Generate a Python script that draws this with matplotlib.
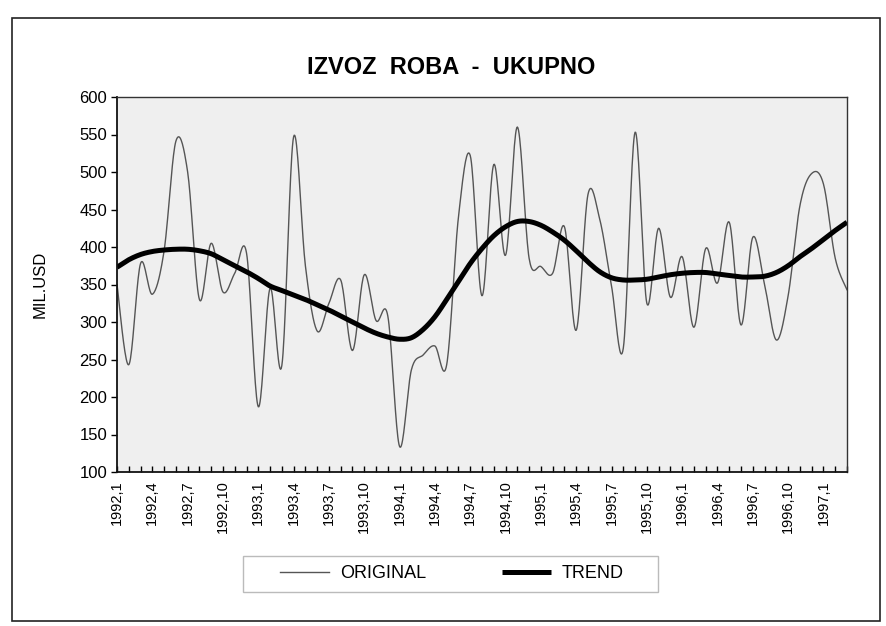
import numpy as np
import matplotlib
matplotlib.use("Agg")
import matplotlib.pyplot as plt
from matplotlib.patches import Rectangle

# ---- data -------------------------------------------------------------
years = [1992, 1993, 1994, 1995, 1996, 1997]
months = [f"{y},{m}" for y in years for m in range(1, 13)][:63]   # 1992,1 .. 1997,3

original = [350, 243, 378, 337, 395, 541, 500, 330, 405, 340,
            365, 392, 187, 345, 242, 547, 375, 288, 325, 356,
            262, 363, 302, 308, 134, 236, 256, 268, 243, 440,
            522, 335, 510, 389, 560, 385, 374, 365, 427, 289,
            470, 437, 348, 265, 553, 325, 425, 333, 387, 293,
            398, 352, 433, 296, 413, 350, 276, 335, 455, 498,
            484, 385, 343]

trend = [373, 383, 390, 394, 396, 397, 397, 395, 391, 383,
         375, 367, 358, 348, 342, 336, 330, 323, 316, 308,
         300, 292, 285, 280, 277, 279, 290, 307, 330, 354,
         378, 398, 415, 427, 434, 434, 429, 420, 409, 395,
         380, 367, 359, 356, 356, 357, 360, 363, 365, 366,
         366, 364, 362, 360, 360, 361, 366, 375, 387, 398,
         410, 422, 433]

title = "IZVOZ  ROBA  -  UKUPNO"
ylabel = "MIL.USD"
series_names = ["ORIGINAL", "TREND"]
yticks = [100, 150, 200, 250, 300, 350, 400, 450, 500, 550, 600]


def smooth(vals, n=20):
    """Excel-like smoothed line (Catmull-Rom Bezier) through the data."""
    y = np.asarray(vals, dtype=float)
    x = np.arange(len(y), dtype=float)
    xs, ys = [], []
    t = np.linspace(0, 1, n, endpoint=False)
    for i in range(len(y) - 1):
        i0 = max(i - 1, 0)
        i3 = min(i + 2, len(y) - 1)
        for arr, out in ((x, xs), (y, ys)):
            p0, p1, p2, p3 = arr[i0], arr[i], arr[i + 1], arr[i3]
            c1 = p1 + (p2 - p0) / 6.0
            c2 = p2 - (p3 - p1) / 6.0
            out.extend((1 - t) ** 3 * p1 + 3 * (1 - t) ** 2 * t * c1
                       + 3 * (1 - t) * t ** 2 * c2 + t ** 3 * p2)
    xs.append(x[-1]); ys.append(y[-1])
    return np.array(xs), np.array(ys)


plt.rcParams["font.family"] = ["Liberation Sans", "DejaVu Sans"]

fig = plt.figure(figsize=(8.86, 6.26), dpi=100)
fig.patch.set_facecolor("white")
ax = fig.add_axes([117 / 886, 1 - 472 / 626, 730 / 886, 375 / 626])
ax.set_facecolor("#efefef")

xo, yo = smooth(original)
xt, yt = smooth(trend)
ax.plot(xo, yo, color="#555555", lw=1.0, label=series_names[0])
ax.plot(xt, yt, color="black", lw=3.6, label=series_names[1],
        solid_capstyle="butt")

ax.set_xlim(0, len(months) - 1)
ax.set_ylim(100, 600)
ax.set_yticks(yticks)
ax.set_yticklabels([str(v) for v in yticks], fontsize=12)
ax.set_xticks(range(len(months)))
ax.set_xticklabels([m if i % 3 == 0 else "" for i, m in enumerate(months)],
                   rotation=90, fontsize=10.5)
ax.tick_params(axis="x", direction="in", length=4, width=1, pad=6)
ax.tick_params(axis="y", direction="out", length=4, width=1, pad=3)
for s in ax.spines.values():
    s.set_color("#333333")
    s.set_linewidth(1.0)
ax.spines["left"].set_linewidth(1.3)
ax.spines["left"].set_color("#111111")
ax.spines["bottom"].set_linewidth(1.3)
ax.spines["bottom"].set_color("#111111")

ax.set_ylabel(ylabel, fontsize=12)
ax.yaxis.set_label_coords((48 - 117) / 730, 0.5)
fig.text(451 / 886, 1 - 68 / 626, title, ha="center", va="center",
         fontsize=17, fontweight="bold")

leg = fig.legend(loc="center", bbox_to_anchor=(452 / 886, 1 - 574 / 626),
                 ncol=2, frameon=False, fontsize=13, handlelength=2.7,
                 handletextpad=0.6, columnspacing=4.2)

fig.patches.append(Rectangle((243 / 886, 1 - 592 / 626), 415 / 886, 36 / 626,
                             transform=fig.transFigure, fill=False,
                             edgecolor="#bbbbbb", lw=1.0))
fig.patches.append(Rectangle((12 / 886, 1 - 621 / 626), 868 / 886, 603 / 626,
                             transform=fig.transFigure, fill=False,
                             edgecolor="#222222", lw=1.2))

fig.savefig("out.png", dpi=100)
